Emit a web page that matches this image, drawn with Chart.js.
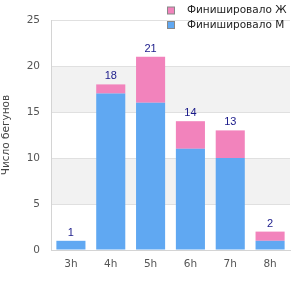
<!DOCTYPE html>
<html>
<head>
<meta charset="utf-8">
<script src="https://cdn.jsdelivr.net/npm/chart.js@4"></script>
<style>
  html, body { margin: 0; padding: 0; background: #fff; }
  #wrap { width: 300px; height: 300px; }
</style>
</head>
<body>
<div id="wrap"><canvas id="chart" width="300" height="300"></canvas></div>
<script>
const categories = ['3h', '4h', '5h', '6h', '7h', '8h'];
const finishedM = [1, 17, 16, 11, 10, 1];
const finishedF = [0, 1, 5, 3, 3, 1];
const seriesNames = ['Финишировало Ж', 'Финишировало М'];
const yTicks = [0, 5, 10, 15, 20, 25];

const blue = '#60a8f2';
const pink = '#f283bc';
const font = 'DejaVu Sans';

// grey bands between 5-10 and 15-20
const bandsPlugin = {
    id: 'bands',
    beforeDraw(chart) {
        const ctx = chart.ctx;
        const area = chart.chartArea;
        const y = chart.scales.y;
        ctx.save();
        ctx.fillStyle = '#f2f2f2';
        [[5, 10], [15, 20]].forEach(([a, b]) => {
            const top = y.getPixelForValue(b);
            const bottom = y.getPixelForValue(a);
            ctx.fillRect(area.left, top, area.right - area.left, bottom - top);
        });
        ctx.restore();
    }
};

// totals above each stack
const totalsPlugin = {
    id: 'totals',
    afterDatasetsDraw(chart) {
        const ctx = chart.ctx;
        const x = chart.scales.x;
        const y = chart.scales.y;
        ctx.save();
        ctx.font = '11px "Liberation Sans"';
        ctx.fillStyle = '#1a1a8a';
        ctx.textAlign = 'center';
        ctx.textBaseline = 'alphabetic';
        categories.forEach((c, i) => {
            const total = finishedM[i] + finishedF[i];
            ctx.fillText(String(total), x.getPixelForValue(i), y.getPixelForValue(total) - 5);
        });
        ctx.restore();
    }
};

// legend in the top right corner
const legendPlugin = {
    id: 'customLegend',
    afterDraw(chart) {
        const ctx = chart.ctx;
        const colors = [pink, blue];
        ctx.save();
        ctx.font = '10.5px "' + font + '"';
        ctx.textBaseline = 'middle';
        ctx.textAlign = 'left';
        seriesNames.forEach((name, i) => {
            const cy = 10.5 + i * 14.5;
            ctx.fillStyle = colors[i];
            ctx.fillRect(167.5, cy - 3.5, 7, 7);
            ctx.strokeStyle = '#888';
            ctx.lineWidth = 1;
            ctx.strokeRect(167.5, cy - 3.5, 7, 7);
            ctx.fillStyle = '#222';
            ctx.fillText(name, 187, cy);
        });
        ctx.restore();
    }
};

new Chart(document.getElementById('chart'), {
    type: 'bar',
    data: {
        labels: categories,
        datasets: [
            {
                label: seriesNames[1],
                data: finishedM,
                backgroundColor: blue,
                barPercentage: 0.73,
                categoryPercentage: 1
            },
            {
                label: seriesNames[0],
                data: finishedF,
                backgroundColor: pink,
                barPercentage: 0.73,
                categoryPercentage: 1
            }
        ]
    },
    options: {
        responsive: false,
        animation: false,
        events: [],
        layout: { padding: { left: 0, right: 10, top: 20, bottom: 0 } },
        plugins: {
            legend: { display: false },
            tooltip: { enabled: false }
        },
        scales: {
            x: {
                stacked: true,
                grid: { display: false, drawTicks: false },
                border: { color: '#d4d4d4' },
                ticks: { color: '#555', font: { family: font, size: 10.5 }, padding: 8 },
                afterFit: s => { s.height = 50; }
            },
            y: {
                stacked: true,
                min: 0,
                max: 25,
                afterBuildTicks: s => { s.ticks = yTicks.map(v => ({ value: v })); },
                grid: { color: '#e0e0e0', drawTicks: false },
                border: { color: '#d4d4d4' },
                ticks: { color: '#555', font: { family: font, size: 10.5 }, padding: 11 },
                title: {
                    display: true,
                    text: 'Число бегунов',
                    color: '#444',
                    font: { family: font, size: 10.5 },
                    padding: { top: 0, bottom: 0 }
                },
                afterFit: s => { s.width = 51; }
            }
        }
    },
    plugins: [bandsPlugin, totalsPlugin, legendPlugin]
});
</script>
</body>
</html>
